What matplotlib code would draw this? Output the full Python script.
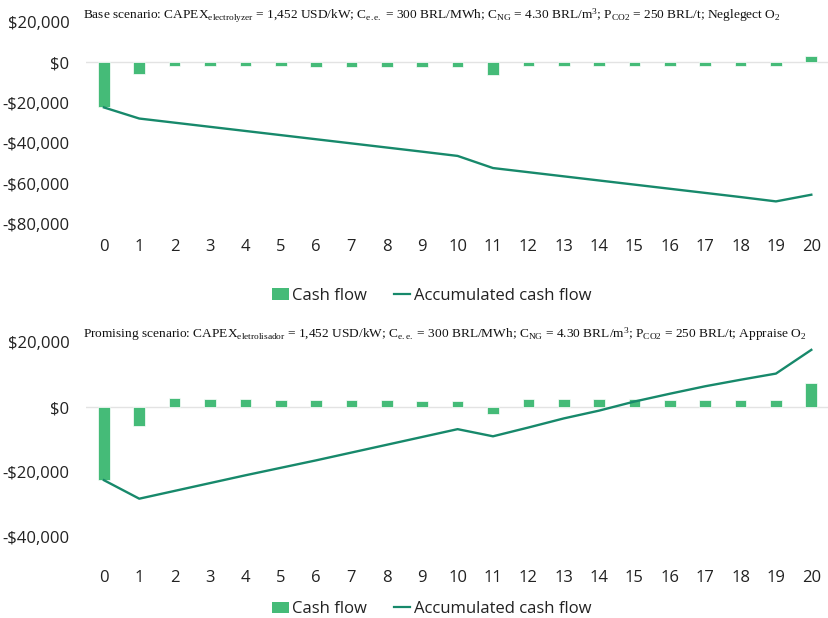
import matplotlib
matplotlib.use("Agg")
import matplotlib.pyplot as plt
import matplotlib.ticker as mticker
from matplotlib.patches import Patch
from matplotlib.lines import Line2D

years = list(range(21))

base_cash = [-22300, -5600, -2000, -2000, -2000, -2000, -2100, -2100, -2100, -2100,
             -2500, -6100, -2000, -2000, -2000, -2000, -2000, -2000, -2000, -2000, 3100]
base_acc = [-22300, -27800, -29850, -31900, -33950, -36000, -38050, -40100, -42150, -44200,
            -46300, -52300, -54350, -56400, -58450, -60500, -62550, -64600, -66650, -68800, -65500]

prom_cash = [-22600, -5800, 2650, 2500, 2500, 2250, 2100, 2100, 2100, 2000,
             1850, -2050, 2550, 2500, 2500, 2350, 2150, 2150, 2150, 2050, 7500]
prom_acc = [-22500, -28200, -25800, -23400, -21000, -18700, -16400, -14000, -11600, -9200,
            -6800, -9000, -6300, -3500, -1100, 1700, 4100, 6400, 8400, 10300, 17600]

bar_color = "#45bb78"
line_color = "#17896b"
sans = ["Open Sans", "DejaVu Sans"]
serif = ["Liberation Serif", "DejaVu Serif"]

# mathtext in Times-like serif for the sub/superscripts of the titles
plt.rcParams["mathtext.fontset"] = "custom"
plt.rcParams["mathtext.rm"] = "Liberation Serif"
plt.rcParams["mathtext.it"] = "Liberation Serif:italic"
plt.rcParams["mathtext.bf"] = "Liberation Serif:bold"

fig = plt.figure(figsize=(8.29, 6.18), dpi=100)


def money(v, pos):
    if v < 0:
        return "-${:,.0f}".format(-v)
    return "${:,.0f}".format(v)


def draw_panel(ax, cash, acc, ylim, step, title, label_pad, legend_y, title_y):
    ax.bar(years, cash, width=0.33, color=bar_color, edgecolor="white", linewidth=0.5, zorder=2)
    ax.plot(years, acc, color=line_color, linewidth=1.7, zorder=3)
    ax.axhline(0, color="#e3e3e3", linewidth=1, zorder=1)
    ax.set_xlim(-0.5, 20.5)
    ax.set_ylim(*ylim)
    ax.set_yticks(range(ylim[0], ylim[1] + 1, step))
    ax.yaxis.set_major_formatter(mticker.FuncFormatter(money))
    ax.set_xticks(years)
    for s in ax.spines.values():
        s.set_visible(False)
    ax.tick_params(axis="both", length=0, labelsize=12, colors="#222222")
    ax.tick_params(axis="y", pad=12)
    ax.tick_params(axis="x", pad=label_pad)
    for t in ax.get_xticklabels() + ax.get_yticklabels():
        t.set_family(sans)
    ax.text(-0.004, title_y, title, transform=ax.transAxes, family=serif, fontsize=9.6,
            ha="left", va="bottom", color="#111111")
    handles = [Patch(facecolor=bar_color, edgecolor="none", label="Cash flow"),
               Line2D([0], [0], color=line_color, linewidth=1.6, label="Accumulated cash flow")]
    leg = ax.legend(handles=handles, loc="center", bbox_to_anchor=(0.465, legend_y),
                    ncol=2, frameon=False, prop={"family": sans, "size": 12},
                    handlelength=1.0, handletextpad=0.2, columnspacing=1.6)
    for t in leg.get_texts():
        t.set_color("#222222")


ax1 = fig.add_axes([0.104, 0.6375, 0.896, 0.327])
draw_panel(ax1, base_cash, base_acc, (-80000, 20000), 20000,
           r"Base scenario: CAPEX$_{\mathrm{electrolyzer}}$ = 1,452 USD/kW; C$_{\mathrm{e.e.}}$ = 300 BRL/MWh; "
           r"C$_{\mathrm{NG}}$ = 4.30 BRL/m$^{\mathrm{3}}$; P$_{\mathrm{CO2}}$ = 250 BRL/t; Neglegect O$_{\mathrm{2}}$",
           11, -0.355, 0.985)

ax2 = fig.add_axes([0.104, 0.131, 0.896, 0.3155])
draw_panel(ax2, prom_cash, prom_acc, (-40000, 20000), 20000,
           r"Promising scenario: CAPEX$_{\mathrm{eletrolisador}}$ = 1,452 USD/kW; C$_{\mathrm{e.e.}}$ = 300 BRL/MWh; "
           r"C$_{\mathrm{NG}}$ = 4.30 BRL/m$^{\mathrm{3}}$; P$_{\mathrm{CO2}}$ = 250 BRL/t; Appraise O$_{\mathrm{2}}$",
           24, -0.37, 0.995)

fig.savefig("out.png", dpi=100, facecolor="white")
